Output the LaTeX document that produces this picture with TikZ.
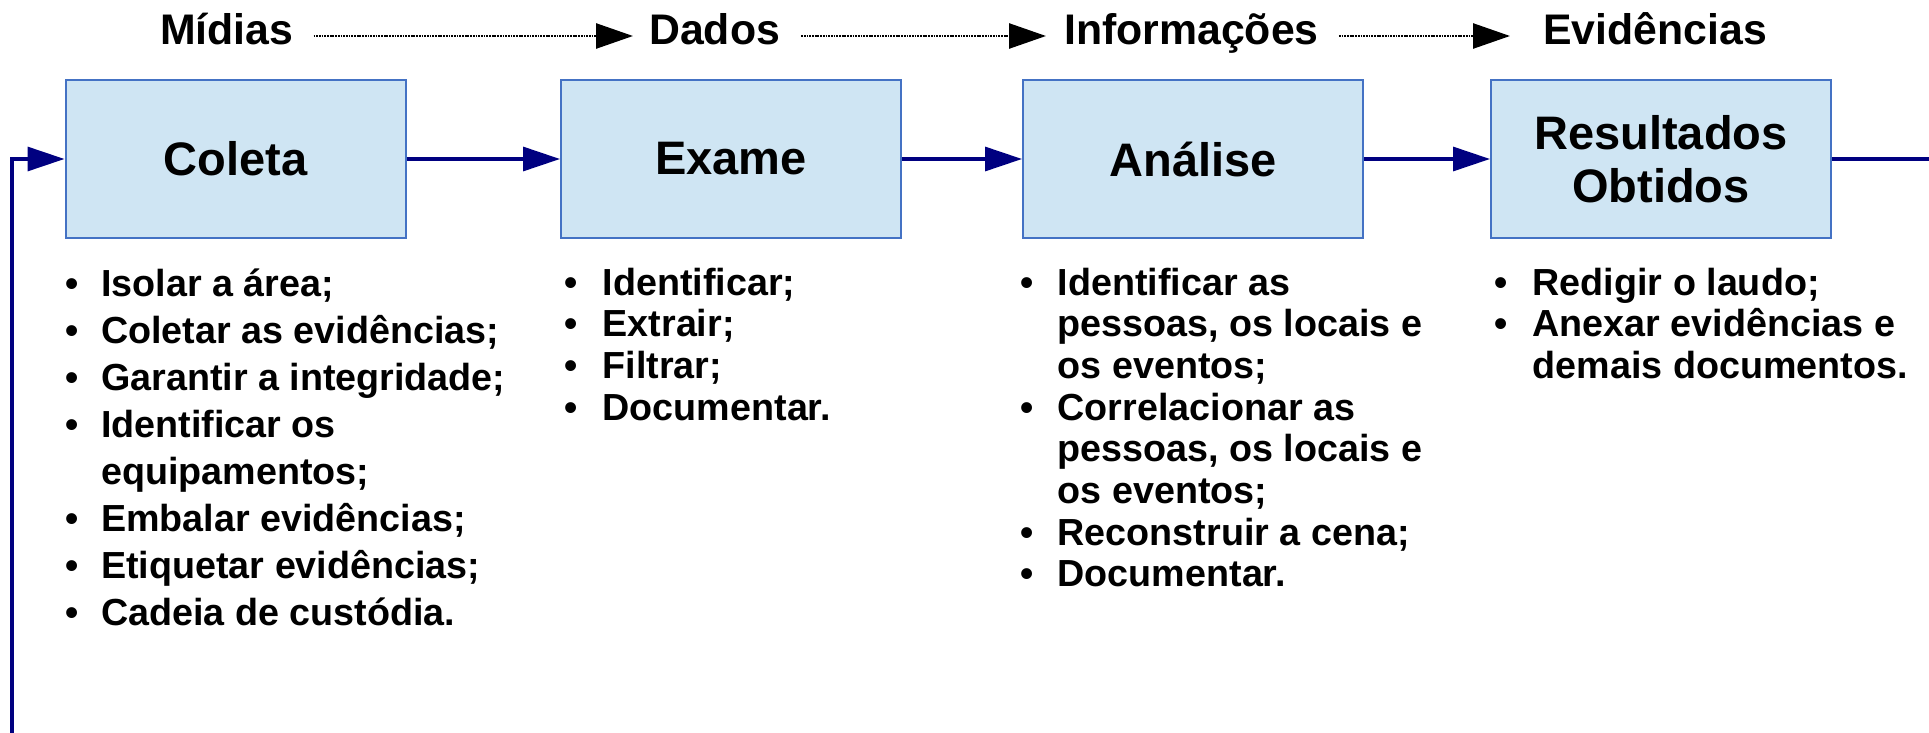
\documentclass[tikz,border=0pt]{standalone}
\usepackage{fontspec}
\setmainfont{Liberation Sans}
\usetikzlibrary{arrows.meta}
\definecolor{boxfill}{RGB}{207,229,243}
\definecolor{boxline}{RGB}{68,114,196}
\definecolor{flow}{RGB}{0,0,128}
\begin{document}
\begin{tikzpicture}[x=1pt,y=-1pt,
  stage/.style={draw=boxline, line width=2pt, fill=boxfill, minimum width=340pt, minimum height=158pt, inner sep=0pt, align=center, font=\fontsize{47}{53}\selectfont\bfseries},
  toplabel/.style={anchor=base west, inner sep=0pt, font=\fontsize{42.8}{48}\selectfont\bfseries},
  itm/.style={anchor=base west, inner sep=0pt, font=\fontsize{37.7}{44}\selectfont\bfseries},
  bul/.style={anchor=base, inner sep=0pt, font=\fontsize{37.7}{44}\selectfont\bfseries},
  dotarr/.style={black, line width=2.6pt, dash pattern=on 1.8pt off 0.9pt, -{Triangle[length=37pt,width=25pt]}},
  flowarr/.style={flow, line width=3.2pt, -{Triangle[length=37pt,width=24pt]}},
  flowline/.style={flow, line width=3.2pt}
]
\useasboundingbox (0,0) rectangle (1929,733);

% top labels
\node[toplabel] (mid) at (160,45) {Mídias};
\node[toplabel] (dad) at (649,45) {Dados};
\node[toplabel] (inf) at (1064,45) {Informações};
\node[toplabel] (evi) at (1543,45) {Evidências};
\draw[dotarr] ([shift={(20,-9)}]mid.base east) -- ([shift={(-16,-9)}]dad.base west);
\draw[dotarr] ([shift={(21,-9)}]dad.base east) -- ([shift={(-18,-9)}]inf.base west);
\draw[dotarr] ([shift={(20,-9)}]inf.base east) -- ([shift={(-33,-9)}]evi.base west);

% stages
\node[stage] (col) at (235.5,159) {Coleta};
\node[stage] (exa) at (731,159) {Exame};
\node[stage] (ana) at (1193,159) {Análise};
\node[stage] (res) at (1661,159) {Resultados\\Obtidos};

\draw[flowarr] (col.east) -- (exa.west);
\draw[flowarr] (exa.east) -- (ana.west);
\draw[flowarr] (ana.east) -- (res.west);
\coordinate (outr) at (1929,159);
\draw[flowline] (res.east) -- (outr);
\coordinate (fbb) at (12,740);
\draw[flowarr] (fbb) |- (col.west);

% Coleta list
\foreach \t [count=\i] in {Isolar a área;, Coletar as evidências;, Garantir a integridade;, Identificar os, equipamentos;, Embalar evidências;, Etiquetar evidências;, Cadeia de custódia.}
  \node[itm] (c\i) at (101,{296.7+46.9*(\i-1)}) {\t};
\foreach \i in {1,2,3,4,6,7,8}
  \node[bul] (cb\i) at (71.7,{296.7+46.9*(\i-1)}) {•};

% Exame list
\foreach \t [count=\i] in {Identificar;, Extrair;, Filtrar;, Documentar.}
  \node[itm] (e\i) at (602.5,{295+41.7*(\i-1)}) {\t};
\foreach \i in {1,2,3,4}
  \node[bul] (eb\i) at (570.7,{295+41.7*(\i-1)}) {•};

% Analise list
\foreach \t [count=\i] in {Identificar as, {pessoas, os locais e}, os eventos;, Correlacionar as, {pessoas, os locais e}, os eventos;, Reconstruir a cena;, Documentar.}
  \node[itm] (a\i) at (1057.5,{295+41.7*(\i-1)}) {\t};
\foreach \i in {1,4,7,8}
  \node[bul] (ab\i) at (1026.7,{295+41.7*(\i-1)}) {•};

% Resultados list
\foreach \t [count=\i] in {Redigir o laudo;, Anexar evidências e, demais documentos.}
  \node[itm] (r\i) at (1532.5,{295+41.7*(\i-1)}) {\t};
\foreach \i in {1,2}
  \node[bul] (rb\i) at (1500.7,{295+41.7*(\i-1)}) {•};
\end{tikzpicture}
\end{document}
